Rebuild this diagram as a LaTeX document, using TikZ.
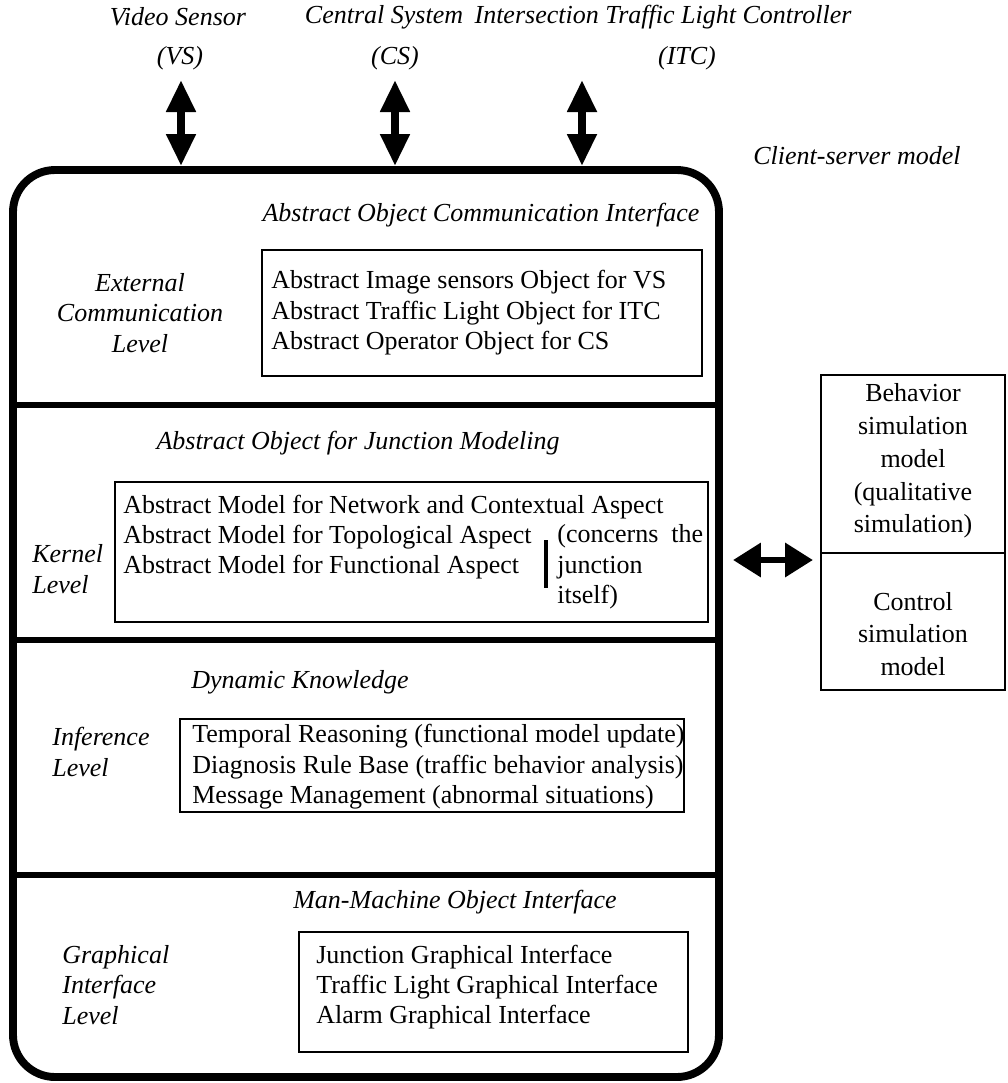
\documentclass[tikz,border=0pt]{standalone}
\usepackage{fontspec}
\setmainfont{Liberation Serif}
\usetikzlibrary{arrows.meta}
\begin{document}
\begin{tikzpicture}[x=0.02cm,y=-0.02cm,
  txt/.style={font=\fontsize{14.8}{17.3}\selectfont, inner sep=0pt},
  itl/.style={font=\fontsize{14.8}{17.3}\selectfont\itshape, inner sep=0pt},
  simtxt/.style={font=\fontsize{14.8}{18.7}\selectfont, inner sep=0pt, align=center},
  frame/.style={line width=4.5pt, rounded corners=0.84cm},
  divider/.style={line width=3.8pt},
  panel/.style={line width=1.4pt},
  vdbl/.style={line width=4.4pt, {Triangle[width=0.56cm,length=0.64cm]}-{Triangle[width=0.56cm,length=0.64cm]}},
  hdbl/.style={line width=3.8pt, {Triangle[width=0.66cm,length=0.56cm]}-{Triangle[width=0.66cm,length=0.56cm]}}
]
\useasboundingbox (0,0) rectangle (1008,1083);

% external systems
\node[itl] (vs) at (178,17) {Video Sensor};
\node[itl] (vsab) at (180,58) {(VS)};
\node[itl] (cs) at (384,17) {Central System};
\node[itl] (csab) at (395,58) {(CS)};
\node[itl] (itc) at (663,17) {Intersection Traffic Light Controller};
\node[itl] (itcab) at (687,58) {(ITC)};
\node[itl] (cli) at (857,156) {Client-server model};

% client-server frame and its levels
\draw[frame] (13,170) rectangle (719,1077);
\coordinate (frametop) at (0,166);
\draw[divider] (13,405) -- (719,405);
\draw[divider] (13,640) -- (719,640);
\draw[divider] (13,875) -- (719,875);

% links to the external systems
\coordinate (vsA) at (181,80);
\coordinate (csA) at (395,80);
\coordinate (itcA) at (582,80);
\draw[vdbl] (vsA) -- (vsA |- frametop);
\draw[vdbl] (csA) -- (csA |- frametop);
\draw[vdbl] (itcA) -- (itcA |- frametop);

% external communication level
\node[itl] (t1) at (481,215) {Abstract Object Communication Interface};
\node[itl, align=center] (l1) at (140,313) {External\\Communication\\Level};
\draw[panel] (262,250) rectangle (702,376);
\node[txt, align=left, anchor=west] (b1) at (271,313) {Abstract Image sensors Object for VS\\Abstract Traffic Light Object for ITC\\Abstract Operator Object for CS};

% kernel level
\node[itl] (t2) at (358,443) {Abstract Object for Junction Modeling};
\node[itl, align=left, anchor=west] (l2) at (32,569) {Kernel\\Level};
\draw[panel] (115,482) rectangle (708,622);
\node[txt, align=left, anchor=west] (b2) at (123,537) {Abstract Model for Network and Contextual Aspect\\Abstract Model for Topological Aspect\\Abstract Model for Functional Aspect};
\draw[line width=1.8pt] (546,540) -- (546,588);
\node[txt, align=left, anchor=west] (b2r) at (557,567) {(concerns\ \ the\\junction\\itself)};

% inference level
\node[itl] (t3) at (300,682) {Dynamic Knowledge};
\node[itl, align=left, anchor=west] (l3) at (52,752) {Inference\\Level};
\node[txt, align=left, anchor=west] (b3) at (192,767) {Temporal Reasoning (functional model update)\\Diagnosis Rule Base (traffic behavior analysis)\\Message Management (abnormal situations)};
\draw[panel] (180,719) rectangle (684,812);

% graphical interface level
\node[itl] (t4) at (455,902) {Man-Machine Object Interface};
\node[itl, align=left, anchor=west] (l4) at (62,985) {Graphical\\Interface\\Level};
\draw[panel] (299,932) rectangle (688,1052);
\node[txt, align=left, anchor=west] (b4) at (316,987) {Junction Graphical Interface\\Traffic Light Graphical Interface\\Alarm Graphical Interface};

% simulation models
\draw[line width=1.2pt] (821,375) rectangle (1005,690);
\draw[line width=1.2pt] (821,553) -- (1005,553);
\node[simtxt] (beh) at (913,461) {Behavior\\simulation\\model\\(qualitative\\simulation)};
\node[simtxt] (ctl) at (913,634) {Control\\simulation\\model};
\coordinate (frameE) at (733,560);
\coordinate (simW) at (813,560);
\draw[hdbl] (frameE) -- (simW);
\end{tikzpicture}
\end{document}
